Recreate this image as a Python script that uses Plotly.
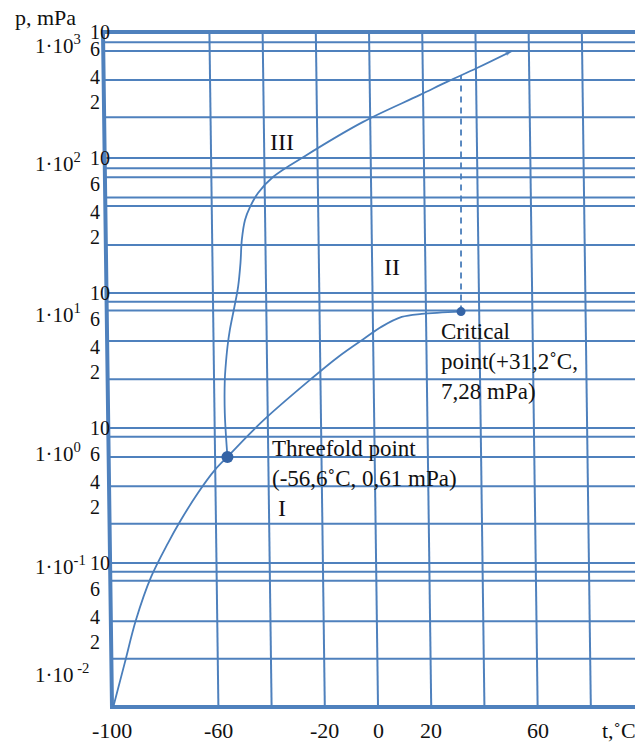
import numpy as np
import plotly.graph_objects as go

# CO2 phase diagram: temperature in °C, pressure in mPa (log scale)

# sublimation curve (solid <-> gas), up to the triple point
subl_t = [-99.5, -95.2, -91.0, -85.3, -78.9, -74.1, -67.7, -61.3, -56.6]
subl_p = [0.0086, 0.0182, 0.0378, 0.0788, 0.141, 0.208, 0.330, 0.489, 0.61]

# vaporization curve (liquid <-> gas), triple point to critical point
vap_t = [-56.6, -43.7, -25.6, -15.0, -4.9, 1.4, 8.9, 16.4, 31.2]
vap_p = [0.61, 1.11, 2.27, 3.36, 4.64, 5.63, 6.64, 7.0, 7.28]

# melting curve (solid <-> liquid), from the triple point upwards
melt_t = [-56.6, -57.6, -57.6, -57.3, -56.6, -55.7, -54.0, -52.6, -51.7, -51.2,
          -50.0, -48.1, -45.1, -39.5, -27.4, -5.6, 15.8, 25.9, 37.2, 50.4]
melt_p = [0.61, 1.29, 2.27, 2.83, 3.98, 5.32, 7.87, 11.1, 16.7, 24.7,
          34.7, 43.4, 55.0, 72.3, 103.5, 185, 293, 366, 464, 621]

triple_t, triple_p = -56.6, 0.61
crit_t, crit_p = 31.2, 7.28

# grid
axis_t = -100
grid_t = [-60, -40, -20, 0, 20, 40, 60, 80]
grid_p = [720, 620, 378, 200,
          100, 84, 72, 51, 44, 22.7,
          10, 8.6, 7.4, 4.4, 2.3,
          1, 0.86, 0.61, 0.37, 0.195,
          0.1, 0.086, 0.074, 0.037, 0.0195]
p_min, p_max = 0.00858, 858
t_max = 100

# tick labels
x_ticks = [-100, -60, -20, 0, 20, 60]
decades = [1000, 100, 10, 1, 0.1]
minor_text = ["10", "6", "4", "2"]
minor_factor = [1, 0.6, 0.4, 0.2]
decade_text = ["1·10<sup>3</sup>", "1·10<sup>2</sup>", "1·10<sup>1</sup>",
               "1·10<sup>0</sup>", "1·10<sup>-1</sup>", "1·10<sup> -2</sup>"]
decade_label_p = [690, 92, 7.0, 0.66, 0.095, 0.0153]

# phase regions
region_text = ["III", "II", "I"]
region_t = [-36.1, 5.1, -36.1]
region_p = [132, 15.7, 0.255]

# styling
GRID = "#4F81BD"
CURVE = "#4A7EBB"
DOT = "#3564A6"
SKEW = 3.38          # lean of the vertical rules, °C from bottom to top
FONT = "Liberation Serif, Times New Roman, serif"
INK = "#111111"

lp_min, lp_max = np.log10(p_min), np.log10(p_max)


def left_edge(p):
    frac = (np.log10(p) - lp_min) / (lp_max - lp_min)
    return axis_t - SKEW * frac


gx, gy = [], []
for t in grid_t:
    gx += [t, t - SKEW, None]
    gy += [p_min, p_max, None]
for p in grid_p:
    gx += [left_edge(p), t_max, None]
    gy += [p, p, None]

fig = go.Figure()
fig.add_trace(go.Scatter(x=gx, y=gy, mode="lines",
                         line=dict(color=GRID, width=2), hoverinfo="skip"))
# frame: top rule, slanted left axis, bottom rule
fig.add_trace(go.Scatter(x=[t_max, axis_t - SKEW, axis_t, t_max],
                         y=[p_max, p_max, p_min, p_min], mode="lines",
                         line=dict(color=GRID, width=4), hoverinfo="skip"))

curve = dict(color=CURVE, width=1.8, shape="spline")
fig.add_trace(go.Scatter(x=subl_t, y=subl_p, mode="lines", line=curve))
fig.add_trace(go.Scatter(x=vap_t, y=vap_p, mode="lines", line=curve))
fig.add_trace(go.Scatter(
    x=melt_t, y=melt_p, mode="lines+markers", line=curve,
    marker=dict(symbol="arrow", angleref="previous", color=CURVE,
                size=[0] * (len(melt_t) - 1) + [7], line=dict(width=0))))


def melt_at(t):
    lp = np.log10(melt_p)
    for i in range(len(melt_t) - 1, 0, -1):
        a, b = melt_t[i - 1], melt_t[i]
        if a <= t <= b:
            return 10 ** (lp[i - 1] + (t - a) / (b - a) * (lp[i] - lp[i - 1]))
    return melt_p[-1]


fig.add_trace(go.Scatter(x=[crit_t, crit_t], y=[crit_p, melt_at(crit_t)],
                         mode="lines",
                         line=dict(color=CURVE, width=1.8, dash="6px,5px")))
fig.add_trace(go.Scatter(x=[triple_t], y=[triple_p], mode="markers",
                         marker=dict(color=DOT, size=12)))
fig.add_trace(go.Scatter(x=[crit_t], y=[crit_p], mode="markers",
                         marker=dict(color=DOT, size=9)))

W, H = 635, 742
ann = []


def text(size=22, **kw):
    base = dict(showarrow=False, yanchor="middle",
                font=dict(family=FONT, size=size, color=INK))
    base.update(kw)
    ann.append(base)


for t in x_ticks:
    text(x=t, xref="x", xanchor="center", y=1 - 730 / H, yref="paper",
         text=str(t))
text(x=600 / W, xref="paper", y=1 - 730 / H, yref="paper", xanchor="left",
     text="t,˚C")
text(x=13 / W, xref="paper", y=1 - 17 / H, yref="paper", xanchor="left",
     text="p, mPa")

minor_shift = [0, 4, 0, 15]
for b in decades:
    for lbl, f, sh in zip(minor_text, minor_factor, minor_shift):
        text(size=20, x=88 / W, xref="paper", y=np.log10(min(b * f, p_max)),
             yref="y", xanchor="left", yshift=sh, text=lbl)
for lbl, p in zip(decade_text, decade_label_p):
    text(size=21, x=33 / W, xref="paper", y=np.log10(p), yref="y",
         xanchor="left", text=lbl)
for lbl, t, p in zip(region_text, region_t, region_p):
    text(size=24, x=t, xref="x", xanchor="center", y=np.log10(p), yref="y",
         text=lbl)

text(size=23, x=crit_t, xref="x", y=np.log10(crit_p), yref="y",
     xanchor="left", xshift=-22, yshift=-50, align="left",
     text="Critical<br>point(+31,2˚C,<br>7,28 mPa)")
text(size=23, x=triple_t, xref="x", y=np.log10(triple_p), yref="y",
     xanchor="left", xshift=43, yshift=-7, align="left",
     text="Threefold point<br>(-56,6˚C, 0,61 mPa)")

fig.update_layout(
    width=W, height=H, margin=dict(l=0, r=0, t=0, b=0),
    paper_bgcolor="white", plot_bgcolor="white", showlegend=False,
    xaxis=dict(range=[-142.1, 96.6], visible=False, fixedrange=True),
    yaxis=dict(type="log", range=[-2.326, 3.170], visible=False,
               fixedrange=True),
    annotations=ann,
)

fig.write_html("out.html")
